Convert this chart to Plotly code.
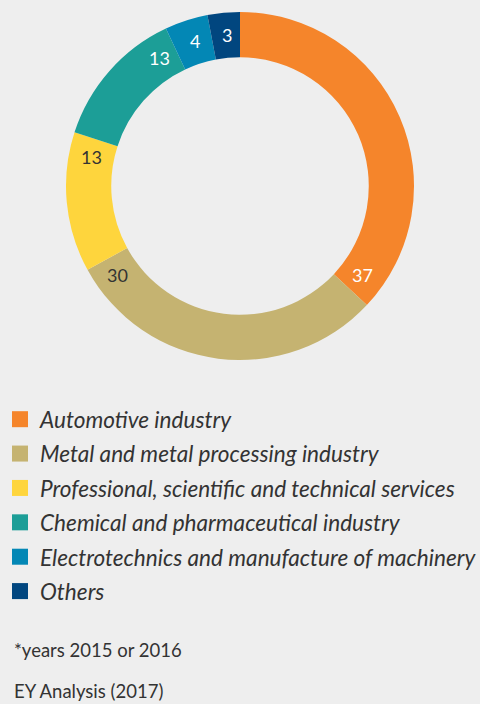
import math
import plotly.graph_objects as go

categories = [
    "Automotive industry",
    "Metal and metal processing industry",
    "Professional, scientific and technical services",
    "Chemical and pharmaceutical industry",
    "Electrotechnics and manufacture of machinery",
    "Others",
]
values = [37, 30, 13, 13, 4, 3]
colors = ["#F5852B", "#C5B371", "#FED53D", "#1C9E97", "#0387B5", "#01467F"]
label_colors = ["#FFFFFF", "#333333", "#333333", "#FFFFFF", "#FFFFFF", "#FFFFFF"]
notes = ["*years 2015 or 2016", "EY Analysis (2017)"]

W, H = 480, 704
cx, cy, R = 240, 186, 174
hole = 0.74
FONT = "Lato"

fig = go.Figure()
fig.add_trace(go.Pie(
    labels=categories, values=values, sort=False, direction="clockwise",
    rotation=0, hole=hole, marker=dict(colors=colors, line=dict(width=0)),
    textinfo="none", hoverinfo="label+value", showlegend=False,
    domain=dict(x=[(cx - R) / W, (cx + R) / W], y=[(H - cy - R) / H, (H - cy + R) / H]),
))

# value labels placed near the clockwise end of each slice
total = sum(values)
cum = 0
rmid = R * (1 + hole) / 2
for v, c in zip(values, label_colors):
    cum += v
    span = v / total * 360
    ang = math.radians(cum / total * 360 - min(7, 0.45 * span))
    px = cx + rmid * math.sin(ang)
    py = cy - rmid * math.cos(ang)
    fig.add_annotation(x=px / W, y=1 - py / H, xref="paper", yref="paper",
                       xanchor="center", yanchor="middle",
                       text=str(v), showarrow=False,
                       font=dict(family=FONT, size=18, color=c))

# legend via marker proxies
for name, col in zip(categories, colors):
    fig.add_trace(go.Scatter(x=[None], y=[None], mode="markers", name=name,
                             marker=dict(symbol="square", size=16, color=col),
                             legendgroup=name))

for i, t in enumerate(notes):
    fig.add_annotation(x=12 / W, y=1 - [650, 691][i] / H, xref="paper", yref="paper",
                       xanchor="left", yanchor="middle", text=t, showarrow=False,
                       font=dict(family=FONT, size=18.5, color="#333333"))

fig.update_layout(
    width=W, height=H, margin=dict(l=0, r=0, t=0, b=0),
    paper_bgcolor="#EEEEEE", plot_bgcolor="#EEEEEE",
    xaxis=dict(visible=False), yaxis=dict(visible=False),
    legend=dict(x=0, y=1 - 398 / H, xanchor="left", yanchor="top",
                font=dict(family=FONT, size=22.6, color="#333333", style="italic"),
                tracegroupgap=2, bgcolor="rgba(0,0,0,0)", itemsizing="trace"),
    showlegend=True,
)

fig.write_html("out.html", config={"displayModeBar": False},
               post_script="document.body.style.margin='0';document.body.style.overflow='hidden';")
